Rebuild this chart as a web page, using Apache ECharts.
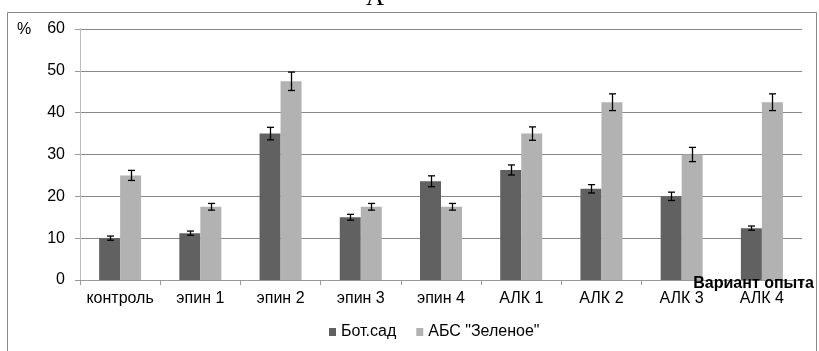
<!DOCTYPE html>
<html><head><meta charset="utf-8">
<script src="https://cdn.jsdelivr.net/npm/echarts@6/dist/echarts.min.js"></script>
<style>html,body{margin:0;padding:0;background:#fff}#c{width:819px;height:351px}</style>
</head><body><div id="c"></div>
<script>
var categories = ['контроль','эпин 1','эпин 2','эпин 3','эпин 4','АЛК 1','АЛК 2','АЛК 3','АЛК 4'];
var botValues = [10, 11.2, 35, 15, 23.6, 26.3, 21.8, 20, 12.4];
var botErr = [0.5, 0.5, 1.5, 0.7, 1.3, 1.2, 1.0, 1.0, 0.5];
var absValues = [25, 17.5, 47.5, 17.5, 17.5, 35, 42.5, 30, 42.5];
var absErr = [1.2, 0.8, 2.2, 0.8, 0.8, 1.6, 2.0, 1.7, 2.0];
var seriesNames = ['Бот.сад', 'АБС "Зеленое"'];
var xAxisName = 'Вариант опыта';
var yTicks = [0, 10, 20, 30, 40, 50, 60];

var BAR_W = 21;
function errSeries(vals, errs, offset) {
  return {
    type: 'custom',
    silent: true,
    z: 10,
    data: vals.map(function (v, i) { return [i, v, errs[i]]; }),
    renderItem: function (params, api) {
      var i = api.value(0), v = api.value(1), e = api.value(2);
      var hi = api.coord([i, v + e]);
      var lo = api.coord([i, v - e]);
      var x = Math.round(hi[0] + offset) + 0.5;
      var cap = 3.5;
      var st = { stroke: '#000', lineWidth: 1.3 };
      return { type: 'group', children: [
        { type: 'line', shape: { x1: x, y1: hi[1], x2: x, y2: lo[1] }, style: st },
        { type: 'line', shape: { x1: x - cap, y1: hi[1], x2: x + cap, y2: hi[1] }, style: st },
        { type: 'line', shape: { x1: x - cap, y1: lo[1], x2: x + cap, y2: lo[1] }, style: st }
      ]};
    }
  };
}

var chart = echarts.init(document.getElementById('c'));
chart.setOption({
  animation: false,
  backgroundColor: '#fff',
  textStyle: { fontFamily: 'Liberation Sans, Arial, sans-serif' },
  grid: { left: 80, right: 17, top: 29, bottom: 71, containLabel: false, outerBoundsMode: 'none' },
  legend: {
    data: seriesNames,
    top: 324, left: 329, padding: 0,
    icon: 'rect', itemWidth: 7, itemHeight: 8, itemGap: 20,
    textStyle: { fontSize: 16, color: '#000' }
  },
  xAxis: {
    type: 'category', data: categories,
    axisLine: { lineStyle: { color: '#999', width: 1 } },
    axisTick: { show: true, length: 5, alignWithLabel: false, lineStyle: { color: '#999' } },
    axisLabel: { color: '#000', fontSize: 16, margin: 11, interval: 0, hideOverlap: false }
  },
  yAxis: {
    type: 'value', min: 0, max: 60, interval: 10,
    axisLine: { show: true, lineStyle: { color: '#bbb' } },
    axisTick: { show: true, length: 5, lineStyle: { color: '#999' } },
    splitLine: { lineStyle: { color: '#888', width: 1 } },
    axisLabel: { color: '#000', fontSize: 16, margin: 15 }
  },
  series: [
    { name: seriesNames[0], type: 'bar', data: botValues, barWidth: BAR_W, barGap: '0%', itemStyle: { color: '#616161' } },
    { name: seriesNames[1], type: 'bar', data: absValues, barWidth: BAR_W, barGap: '0%', itemStyle: { color: '#b2b2b2' } },
    errSeries(botValues, botErr, -BAR_W / 2),
    errSeries(absValues, absErr, BAR_W / 2)
  ],
  graphic: [
    { type: 'rect', shape: { x: 7.5, y: 12.5, width: 809, height: 345 }, style: { fill: 'none', stroke: '#888', lineWidth: 1 }, silent: true },
    { type: 'text', left: 17, top: 22, style: { text: '%', fontSize: 16, fill: '#000', fontFamily: 'Liberation Sans, Arial' } },
    { type: 'text', right: 5, top: 276, z: 20, style: { text: xAxisName, fontSize: 16, fontWeight: 'bold', fill: '#000', fontFamily: 'Liberation Sans, Arial' } },
    { type: 'text', left: 366, top: -14, style: { text: 'А', fontSize: 25, fill: '#000', fontFamily: 'Liberation Serif, Times New Roman, serif' } }
  ]
});
</script></body></html>
